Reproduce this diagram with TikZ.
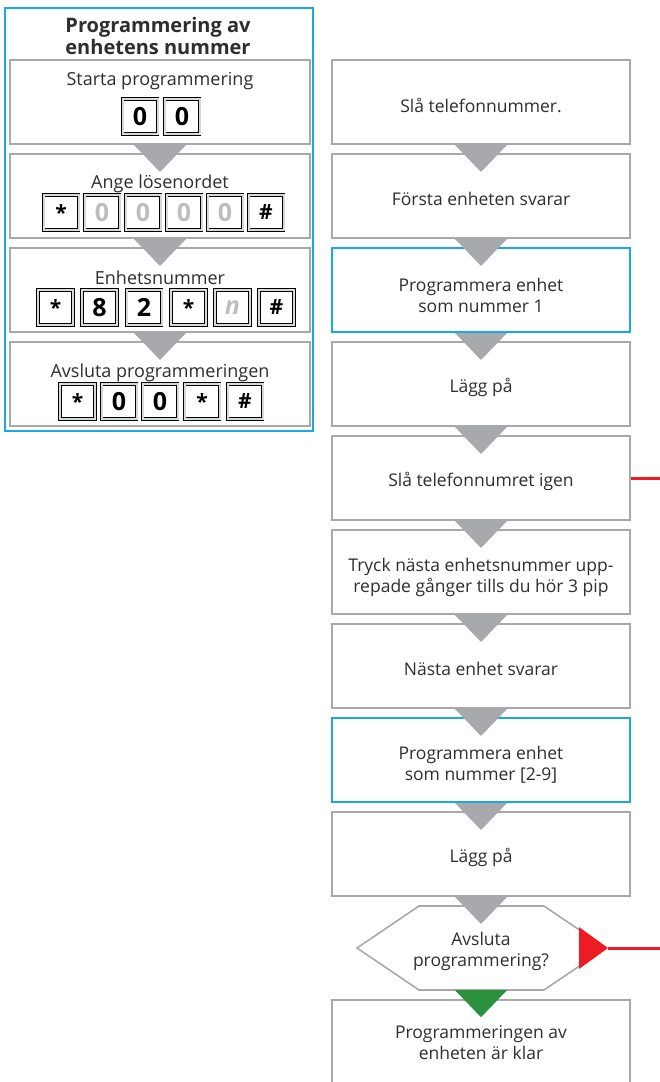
\documentclass[tikz,border=0pt]{standalone}
\usepackage{fontspec}
\setmainfont{Open Sans}
\usetikzlibrary{calc}
\definecolor{bordergray}{HTML}{A7A9AC}
\definecolor{trigray}{HTML}{A7A9AC}
\definecolor{frameblue}{HTML}{1BA9E3}
\definecolor{linered}{HTML}{ED1C24}
\definecolor{trigreen}{HTML}{2A913F}
\definecolor{keygray}{HTML}{BCBEC0}
\definecolor{keyfill}{HTML}{D8D9DA}
\definecolor{txt}{HTML}{2E2E2E}
\newcommand\flowtri[3]{\fill[#3] ($(#1.south)+(-26,0)$) -- ($(#1.south)+(26,0)$) -- ($(#1.south)!27pt!(#2.north)$) -- cycle;}
\newcommand\keystar{\raisebox{-0.45ex}{\fontsize{21}{21}\selectfont *}}
\newcommand\keyhash{{\fontsize{21}{21}\selectfont\#}}
\begin{document}
\begin{tikzpicture}[x=1pt,y=-1pt,
  box/.style={draw=bordergray, line width=2pt, fill=white, minimum width=298pt, minimum height=84pt, inner sep=0pt},
  lbox/.style={box, minimum width=300pt},
  bluebox/.style={box, draw=frameblue},
  boxtext/.style={text=txt, font=\fontsize{17.5}{21}\selectfont, align=center, inner sep=0pt},
  lbl/.style={text=txt, font=\fontsize{18}{20}\selectfont, inner sep=0pt},
  keybox/.style={draw=black, line width=0.6pt, double=keyfill, double distance=2pt, fill=white, minimum width=35pt, minimum height=35pt, inner sep=0pt, font=\fontsize{25}{25}\selectfont\bfseries, text=black},
  keydim/.style={keybox, text=keygray},
  redline/.style={draw=linered, line width=3pt},
]
\useasboundingbox (0,0) rectangle (660,1082);

% ---------- left panel ----------
\node[draw=frameblue, line width=1.5pt, minimum width=308pt, minimum height=423pt, inner sep=0pt] (frame) at (159,219.5) {};
\node[text=txt, font=\fontsize{20}{22}\selectfont\bfseries, align=center, inner sep=0pt] (title) at (158,36) {Programmering av\\enhetens nummer};

\node[lbox] (L1) at (160,102) {};
\node[lbox] (L2) at (160,196) {};
\node[lbox] (L3) at (160,290) {};
\node[lbox] (L4) at (160,384) {};

\flowtri{L1}{L2}{trigray}
\flowtri{L2}{L3}{trigray}
\flowtri{L3}{L4}{trigray}

\node[lbl] (t1) at (160,81) {Starta programmering};
\node[keybox] (k11) at (140,116.5) {0};
\node[keybox] (k12) at (182,116.5) {0};

\node[lbl] (t2) at (160,184) {Ange lösenordet};
\node[keybox] (k21) at (61,212.5) {\keystar};
\node[keydim] (k22) at (102,212.5) {0};
\node[keydim] (k23) at (143,212.5) {0};
\node[keydim] (k24) at (184,212.5) {0};
\node[keydim] (k25) at (225,212.5) {0};
\node[keybox] (k26) at (266,212.5) {\keyhash};

\node[lbl] (t3) at (160,278) {Enhetsnummer};
\node[keybox] (k31) at (55.5,307.5) {\keystar};
\node[keybox] (k32) at (99.5,307.5) {8};
\node[keybox] (k33) at (144,307.5) {2};
\node[keybox] (k34) at (188.5,307.5) {\keystar};
\node[keydim] (k35) at (232.5,307.5) {\itshape n};
\node[keybox] (k36) at (276.5,307.5) {\keyhash};

\node[lbl] (t4) at (160,373) {Avsluta programmeringen};
\node[keybox] (k41) at (77.5,401.5) {\keystar};
\node[keybox] (k42) at (119,401.5) {0};
\node[keybox] (k43) at (160,401.5) {0};
\node[keybox] (k44) at (202,401.5) {\keystar};
\node[keybox] (k45) at (245,401.5) {\keyhash};

% ---------- right column ----------
\node[box] (A) at (481,102) {};
\node[box] (B) at (481,196) {};
\node[bluebox] (C) at (481,290) {};
\node[box] (D) at (481,384) {};
\node[box] (E) at (481,478) {};
\node[box] (F) at (481,572) {};
\node[box] (G) at (481,666) {};
\node[bluebox] (H) at (481,760) {};
\node[box] (I) at (481,854) {};
\node[box] (J) at (481,1042) {};

\node[boxtext] (Atx) at ($(A)+(0,3)$) {Slå telefonnummer.};
\node[boxtext] (Btx) at ($(B)+(0,3)$) {Första enheten svarar};
\node[boxtext] (Ctx) at ($(C)+(0,5)$) {Programmera enhet\\som nummer 1};
\node[boxtext] (Dtx) at ($(D)+(0,3)$) {Lägg på};
\node[boxtext] (Etx) at ($(E)+(0,3)$) {Slå telefonnumret igen};
\node[boxtext] (Ftx) at ($(F)+(0,5)$) {Tryck nästa enhetsnummer upp-\\repade gånger tills du hör 3 pip};
\node[boxtext] (Gtx) at ($(G)+(0,3)$) {Nästa enhet svarar};
\node[boxtext] (Htx) at ($(H)+(0,5)$) {Programmera enhet\\som nummer [2-9]};
\node[boxtext] (Itx) at ($(I)+(0,3)$) {Lägg på};
\node[boxtext] (Jtx) at ($(J)+(0,1)$) {Programmeringen av\\enheten är klar};

% decision hexagon
\coordinate (hexL) at (357,948);
\coordinate (hexTL) at (419,906);
\coordinate (hexTR) at (544,906);
\coordinate (hexR) at (606,948);
\coordinate (hexBR) at (544,990);
\coordinate (hexBL) at (419,990);
\filldraw[draw=bordergray, fill=white, line width=1.6pt] (hexL) -- (hexTL) -- (hexTR) -- (hexR) -- (hexBR) -- (hexBL) -- cycle;
\node[inner sep=0pt, minimum width=240pt, minimum height=84pt] (hex) at (481,948) {};
\node[boxtext] (hextx) at ($(hex)+(0,3)$) {Avsluta\\programmering?};

\flowtri{A}{B}{trigray}
\flowtri{B}{C}{trigray}
\flowtri{C}{D}{trigray}
\flowtri{D}{E}{trigray}
\flowtri{E}{F}{trigray}
\flowtri{F}{G}{trigray}
\flowtri{G}{H}{trigray}
\flowtri{H}{I}{trigray}
\flowtri{I}{hex}{trigray}
\flowtri{hex}{J}{trigreen}

% red exits
\coordinate (Eout) at (660,478);
\draw[redline] (E.east) -- (Eout);
\coordinate (hexout) at (660,948);
\coordinate (redtip) at (608,948);
\fill[linered] (579,927) -- (579,969) -- (redtip) -- cycle;
\draw[redline] (redtip) -- (hexout);
\end{tikzpicture}
\end{document}
